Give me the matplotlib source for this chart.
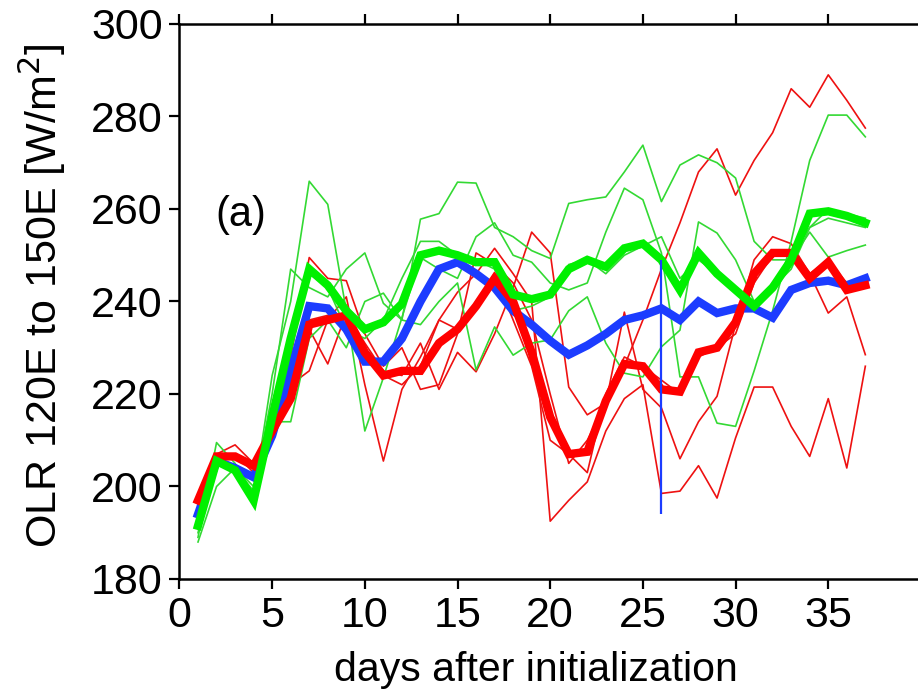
import numpy as np
import matplotlib
matplotlib.use('Agg')
from matplotlib import pyplot as plt

plt.rcParams['font.family'] = ['Liberation Sans', 'DejaVu Sans']

days = np.arange(1, 38)

# ensemble means (thick lines)
blue_mean = [194, 205.5, 204, 202, 211, 225, 239, 238.5, 234, 227, 227, 232, 240, 247, 248.5,
             246, 243, 238, 235, 231.5, 228.5, 230.5, 233, 236, 237, 238.5, 236, 240, 237.5,
             238.5, 238.5, 236.5, 242.5, 244, 244.5, 243.5, 245]
red_mean = [197, 206.5, 206.5, 204.5, 212, 219, 235, 236, 237, 229, 224, 225, 225, 231, 234,
            239, 245, 240, 229, 215, 207, 207.5, 218.5, 226.5, 226, 221, 220.5, 229, 230,
            235.5, 246, 250.5, 250.5, 245, 248.5, 242.5, 243.5]
green_mean = [191.5, 205.5, 203.5, 197, 215, 232, 247, 243.5, 238, 234, 235.5, 239.5, 250, 251,
              250, 248.5, 248.5, 241.5, 240.5, 241.5, 247, 249, 247.5, 251.5, 252.5, 249, 242.5,
              250.5, 246, 242.5, 239, 243, 249, 259, 259.5, 258.5, 257]

# individual members (thin lines)
red_a = [198, 207, 209, 205, 213, 228, 249.5, 245, 244.5, 233, 226, 230, 221, 222, 233, 250.5,
         248, 244, 236, 220, 205, 210, 218, 226, 236, 247, 257, 268, 273, 263, 270.5, 276.5,
         286, 282, 289, 283.5, 277.5]
red_b = [197, 206, 206, 205, 212, 222, 225, 236, 241, 222, 205.5, 221, 228, 236, 242, 246,
         251.5, 246, 240, 192.5, 197, 201, 212, 219, 222, 198.5, 199, 204.5, 197.5, 210.5,
         221.5, 221.5, 213, 206.5, 219, 204, 226]
red_c = [196, 205, 207, 203, 211, 220, 234, 226.5, 237.5, 231, 225, 224, 231, 221, 229, 224.8,
         233, 243, 255, 250.5, 221.5, 215.5, 218, 237.7, 221, 217, 206, 214, 219.5, 235, 249,
         254, 252.5, 246, 237.5, 241, 228.5]
red_d = [197, 207, 207, 204, 213, 219, 236, 237, 234, 228, 224, 222, 226, 236, 234, 240, 246,
         236, 226, 210, 207, 203, 220, 228, 226, 223, 220, 228, 230, 233, 244, 250, 251, 246,
         249, 244, 243]
green_a = [189, 209.5, 205, 198, 224, 240, 266, 261, 238, 212, 223.5, 236.5, 249.5, 247, 245,
           254, 257, 250, 248.5, 244, 242.5, 244, 255, 264.5, 262, 250.5, 223.7, 223.7, 213.7,
           213, 225, 238, 253, 270.5, 280.3, 280.3, 275.6]
green_b = [190, 206, 204, 199, 220, 247, 243, 241, 247, 250.5, 239.6, 236, 257.8, 259, 265.8,
           265.6, 256, 254, 251, 249.3, 261.2, 262, 262.6, 268, 273.8, 261.6, 269.5, 271.7, 270,
           266.7, 253, 249, 249, 255, 249.6, 251, 252.2]
green_c = [188, 200, 204, 200, 214, 214, 232, 236, 230, 240, 241.8, 236, 235, 240, 244, 225.2,
           234.5, 228.4, 231, 231.7, 238, 241, 231, 224.5, 223.7, 230.2, 233.8, 257.2, 254.8,
           249, 240, 244, 250, 256, 260, 259, 258]
green_d = [192, 206, 204, 197, 213, 233, 246, 243, 234, 232, 236, 245, 253, 253, 250, 249, 247,
           238, 239, 241, 248, 249, 246, 250, 252, 254, 245, 249, 246, 243, 240, 243, 247, 256,
           258, 257, 256]

vline_day = 26
vline_range = [194, 249]

fig = plt.figure(figsize=(9.18, 6.97), dpi=100)
ax = fig.add_axes([0.1955, 0.1693, 0.8077, 0.7963])

for m in [red_a, red_b, red_c, red_d]:
    ax.plot(days, m, color='#ee1111', lw=1.2)
for m in [green_a, green_b, green_c, green_d]:
    ax.plot(days, m, color='#33d933', lw=1.2)

ax.plot(days, blue_mean, color='#1c3cff', lw=6, solid_joinstyle='miter')
ax.plot(days, red_mean, color='#ff0000', lw=6, solid_joinstyle='miter')
ax.plot(days, green_mean, color='#00f000', lw=6, solid_joinstyle='miter')
ax.vlines(vline_day, vline_range[0], vline_range[1], color='#1c3cff', lw=1.6, zorder=5)

ax.text(3.3, 258.7, '(a)', fontsize=30, ha='center', va='center')

ax.set_xlim(0, 40)
ax.set_ylim(180, 300)
ax.set_xticks(range(0, 40, 5))
ax.set_yticks(range(180, 301, 20))
ax.tick_params(axis='both', direction='out', length=7, width=1.6, labelsize=31, pad=5)
ax.tick_params(axis='x', top=True)
for s in ax.spines.values():
    s.set_linewidth(1.8)

ax.set_xlabel('days after initialization', fontsize=29.5)
ax.xaxis.set_label_coords(0.481, -0.13)
ax.set_ylabel('OLR 120E to 150E [W/m$^2$]', fontsize=31)
ax.yaxis.set_label_coords(-0.15, 0.51)

fig.savefig('out.png', dpi=100)
